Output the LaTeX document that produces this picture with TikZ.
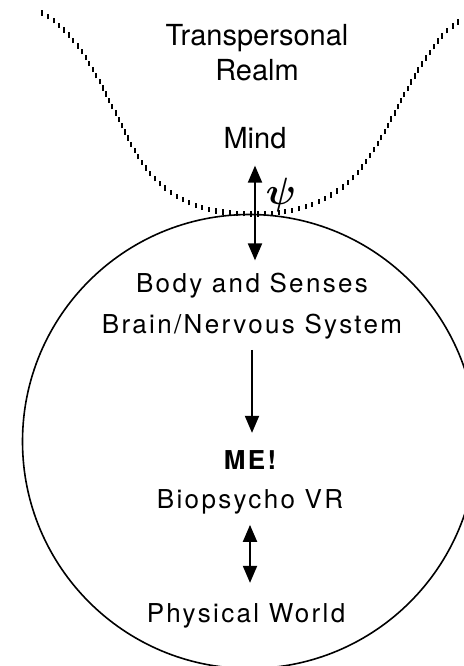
\documentclass[tikz,border=0pt]{standalone}
\usepackage{graphicx}
\usepackage{amsmath}
\usepackage{fontspec}
\setmainfont{TeX Gyre Heros}
\newfontfamily\lowfont[LetterSpace=9]{TeX Gyre Heros}
\usetikzlibrary{arrows.meta,decorations.markings}

\tikzset{
  upper/.style={font=\fontsize{29}{35}\selectfont, inner sep=0pt, align=center, anchor=base},
  lower/.style={font=\lowfont\fontsize{26}{41}\selectfont, inner sep=0pt, align=center, anchor=base},
  link/.style={-{Triangle[length=17pt,width=14pt]}, line width=2pt},
  twoway/.style={{Triangle[length=17pt,width=14pt]}-{Triangle[length=17pt,width=14pt]}, line width=2pt},
  ticked/.style={postaction={decorate}, decoration={markings,
    mark=between positions 0 and 1 step 7pt with {\pgftransformresetnontranslations
      \draw[line width=2pt] (0,-2.7pt) -- (0,2.7pt);}}}
}

\begin{document}
\begin{tikzpicture}[x=1pt, y=-1pt]
  \useasboundingbox (0,0) rectangle (463,666);

  \draw[line width=1.6pt] (249.5,441.5) circle[radius=227];
  \path[ticked] (42,13) .. controls (90,40) and (110,110) .. (140,160)
    .. controls (170,205) and (210,214) .. (255,214)
    .. controls (300,214) and (335,200) .. (360,170)
    .. controls (395,125) and (420,45) .. (461,20);

  \node[upper] (realm) at (257,81) {Transpersonal\\Realm};
  \node[upper] (mind) at (255,148) {Mind};
  \node[lower] (body) at (252,333) {Body and Senses\\Brain/Nervous System};
  \node[lower] (me) at (250,508) {\bfseries ME!\\[-2pt]Biopsycho VR};
  \node[lower] (world) at (246,622) {Physical World};
  \node[inner sep=0pt] (psi) at (281,195) {\scalebox{3.8}{$\boldsymbol{\psi}$}};

  \draw[twoway, shorten <=17pt, shorten >=12pt] (mind.south) -- (mind.south |- body.north);
  \draw[link, shorten <=11pt, shorten >=17pt] (body.south) -- (body.south |- me.north);
  \draw[twoway, shorten <=11pt, shorten >=20pt] (me.south) -- (me.south |- world.north);
\end{tikzpicture}
\end{document}
